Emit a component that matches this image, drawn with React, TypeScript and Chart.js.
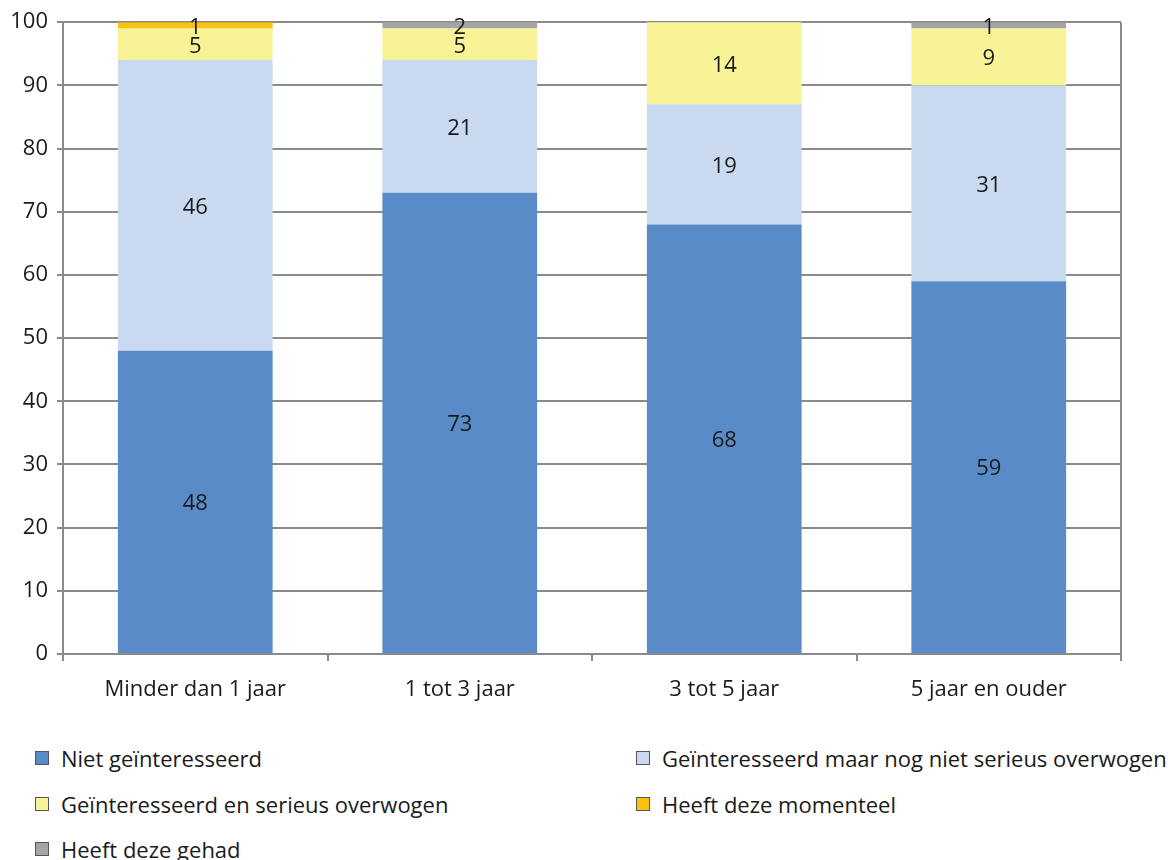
import React, { useEffect, useRef } from "react";
import { Chart, registerables } from "chart.js";

Chart.register(...registerables);

const categories = ["Minder dan 1 jaar", "1 tot 3 jaar", "3 tot 5 jaar", "5 jaar en ouder"];

const seriesNames = [
  "Niet geïnteresseerd",
  "Geïnteresseerd maar nog niet serieus overwogen",
  "Geïnteresseerd en serieus overwogen",
  "Heeft deze momenteel",
  "Heeft deze gehad",
];

const nietGeinteresseerd = [48, 73, 68, 59];
const nietSerieusOverwogen = [46, 21, 19, 31];
const serieusOverwogen = [5, 5, 14, 9];
const heeftMomenteel = [1, 0, 0, 0];
const heeftGehad = [0, 2, 0, 1];

const seriesValues = [
  nietGeinteresseerd,
  nietSerieusOverwogen,
  serieusOverwogen,
  heeftMomenteel,
  heeftGehad,
];

const seriesColors = ["#598BC8", "#C8D9F0", "#F8F397", "#FBC10F", "#A5A5A5"];

const yTicks = [0, 10, 20, 30, 40, 50, 60, 70, 80, 90, 100];

const FONT = "'Open Sans', 'DejaVu Sans', sans-serif";
const AXIS_GRAY = "#8a8a8a";
const TEXT = "#1a1a1a";

// Value labels centred in the visible part of each segment, plus the right frame line
const segmentLabels = {
  id: "segmentLabels",
  afterDatasetsDraw(chart: any) {
    const { ctx, chartArea } = chart;
    ctx.save();
    ctx.font = `22px ${FONT}`;
    ctx.fillStyle = TEXT;
    ctx.textAlign = "center";
    ctx.textBaseline = "middle";
    chart.data.datasets.forEach((ds: any, di: number) => {
      const meta = chart.getDatasetMeta(di);
      meta.data.forEach((bar: any, i: number) => {
        const v = ds.data[i];
        if (!v) return;
        const top = Math.max(bar.y, chartArea.top);
        const bottom = Math.min(bar.base, chartArea.bottom);
        ctx.fillText(String(v), bar.x, (top + bottom) / 2 + 2);
      });
    });
    ctx.restore();
  },
  afterDraw(chart: any) {
    const { ctx, chartArea } = chart;
    ctx.save();
    ctx.strokeStyle = AXIS_GRAY;
    ctx.lineWidth = 2;
    ctx.beginPath();
    ctx.moveTo(chartArea.right, chartArea.top);
    ctx.lineTo(chartArea.right, chartArea.bottom);
    ctx.stroke();
    ctx.restore();
  },
};

function StackedChart() {
  const canvasRef = useRef<HTMLCanvasElement | null>(null);

  useEffect(() => {
    if (!canvasRef.current) return;
    const chart = new Chart(canvasRef.current, {
      type: "bar",
      data: {
        labels: categories,
        datasets: seriesNames.map((name, k) => ({
          label: name,
          data: seriesValues[k],
          backgroundColor: seriesColors[k],
          borderWidth: 0,
          categoryPercentage: 1,
          barPercentage: 0.585,
        })),
      },
      options: {
        animation: false,
        responsive: false,
        maintainAspectRatio: false,
        layout: { padding: { top: 22, right: 47, left: 0, bottom: 0 } },
        plugins: {
          legend: { display: false },
          tooltip: { enabled: false },
        },
        scales: {
          x: {
            stacked: true,
            afterFit: (s: any) => {
              s.height = 66;
            },
            grid: {
              display: true,
              drawOnChartArea: false,
              drawTicks: true,
              tickLength: 7,
              color: AXIS_GRAY,
              lineWidth: 2,
              offset: true,
            },
            border: { display: true, color: AXIS_GRAY, width: 2 },
            ticks: {
              color: TEXT,
              font: { family: FONT, size: 22 },
              padding: 16,
              maxRotation: 0,
            },
          },
          y: {
            stacked: true,
            min: 0,
            max: 100,
            afterFit: (s: any) => {
              s.width = 63;
            },
            afterBuildTicks: (s: any) => {
              s.ticks = yTicks.map((v) => ({ value: v }));
            },
            grid: {
              color: AXIS_GRAY,
              lineWidth: 2,
              tickLength: 6,
            },
            border: { display: true, color: AXIS_GRAY, width: 2 },
            ticks: {
              color: TEXT,
              font: { family: FONT, size: 22 },
              padding: 9,
            },
          },
        },
      },
      plugins: [segmentLabels],
    } as any);
    return () => chart.destroy();
  }, []);

  return (
    <canvas
      ref={canvasRef}
      width={1168}
      height={720}
      style={{ position: "absolute", left: 0, top: 0, width: 1168, height: 720 }}
    />
  );
}

function Legend() {
  // two columns: left column holds series 0, 2, 4; right column 1, 3
  const positions = seriesNames.map((_, k) => ({
    left: k % 2 === 0 ? 35 : 636,
    top: 758 + Math.floor(k / 2) * 45.5,
  }));
  return (
    <>
      {seriesNames.map((name, k) => (
        <div
          key={name}
          style={{
            position: "absolute",
            left: positions[k].left,
            top: positions[k].top - 16,
            height: 32,
            display: "flex",
            alignItems: "center",
            whiteSpace: "nowrap",
            fontFamily: FONT,
            fontSize: 22,
            color: TEXT,
          }}
        >
          <span
            style={{
              display: "inline-block",
              width: 14,
              height: 14,
              boxSizing: "border-box",
              border: "1px solid #555",
              background: seriesColors[k],
              marginRight: 12,
            }}
          />
          <span>{name}</span>
        </div>
      ))}
    </>
  );
}

export default function App() {
  return (
    <div
      style={{
        position: "absolute",
        left: 0,
        top: 0,
        width: 1168,
        height: 860,
        overflow: "hidden",
        background: "#fff",
      }}
    >
      <StackedChart />
      <Legend />
    </div>
  );
}
